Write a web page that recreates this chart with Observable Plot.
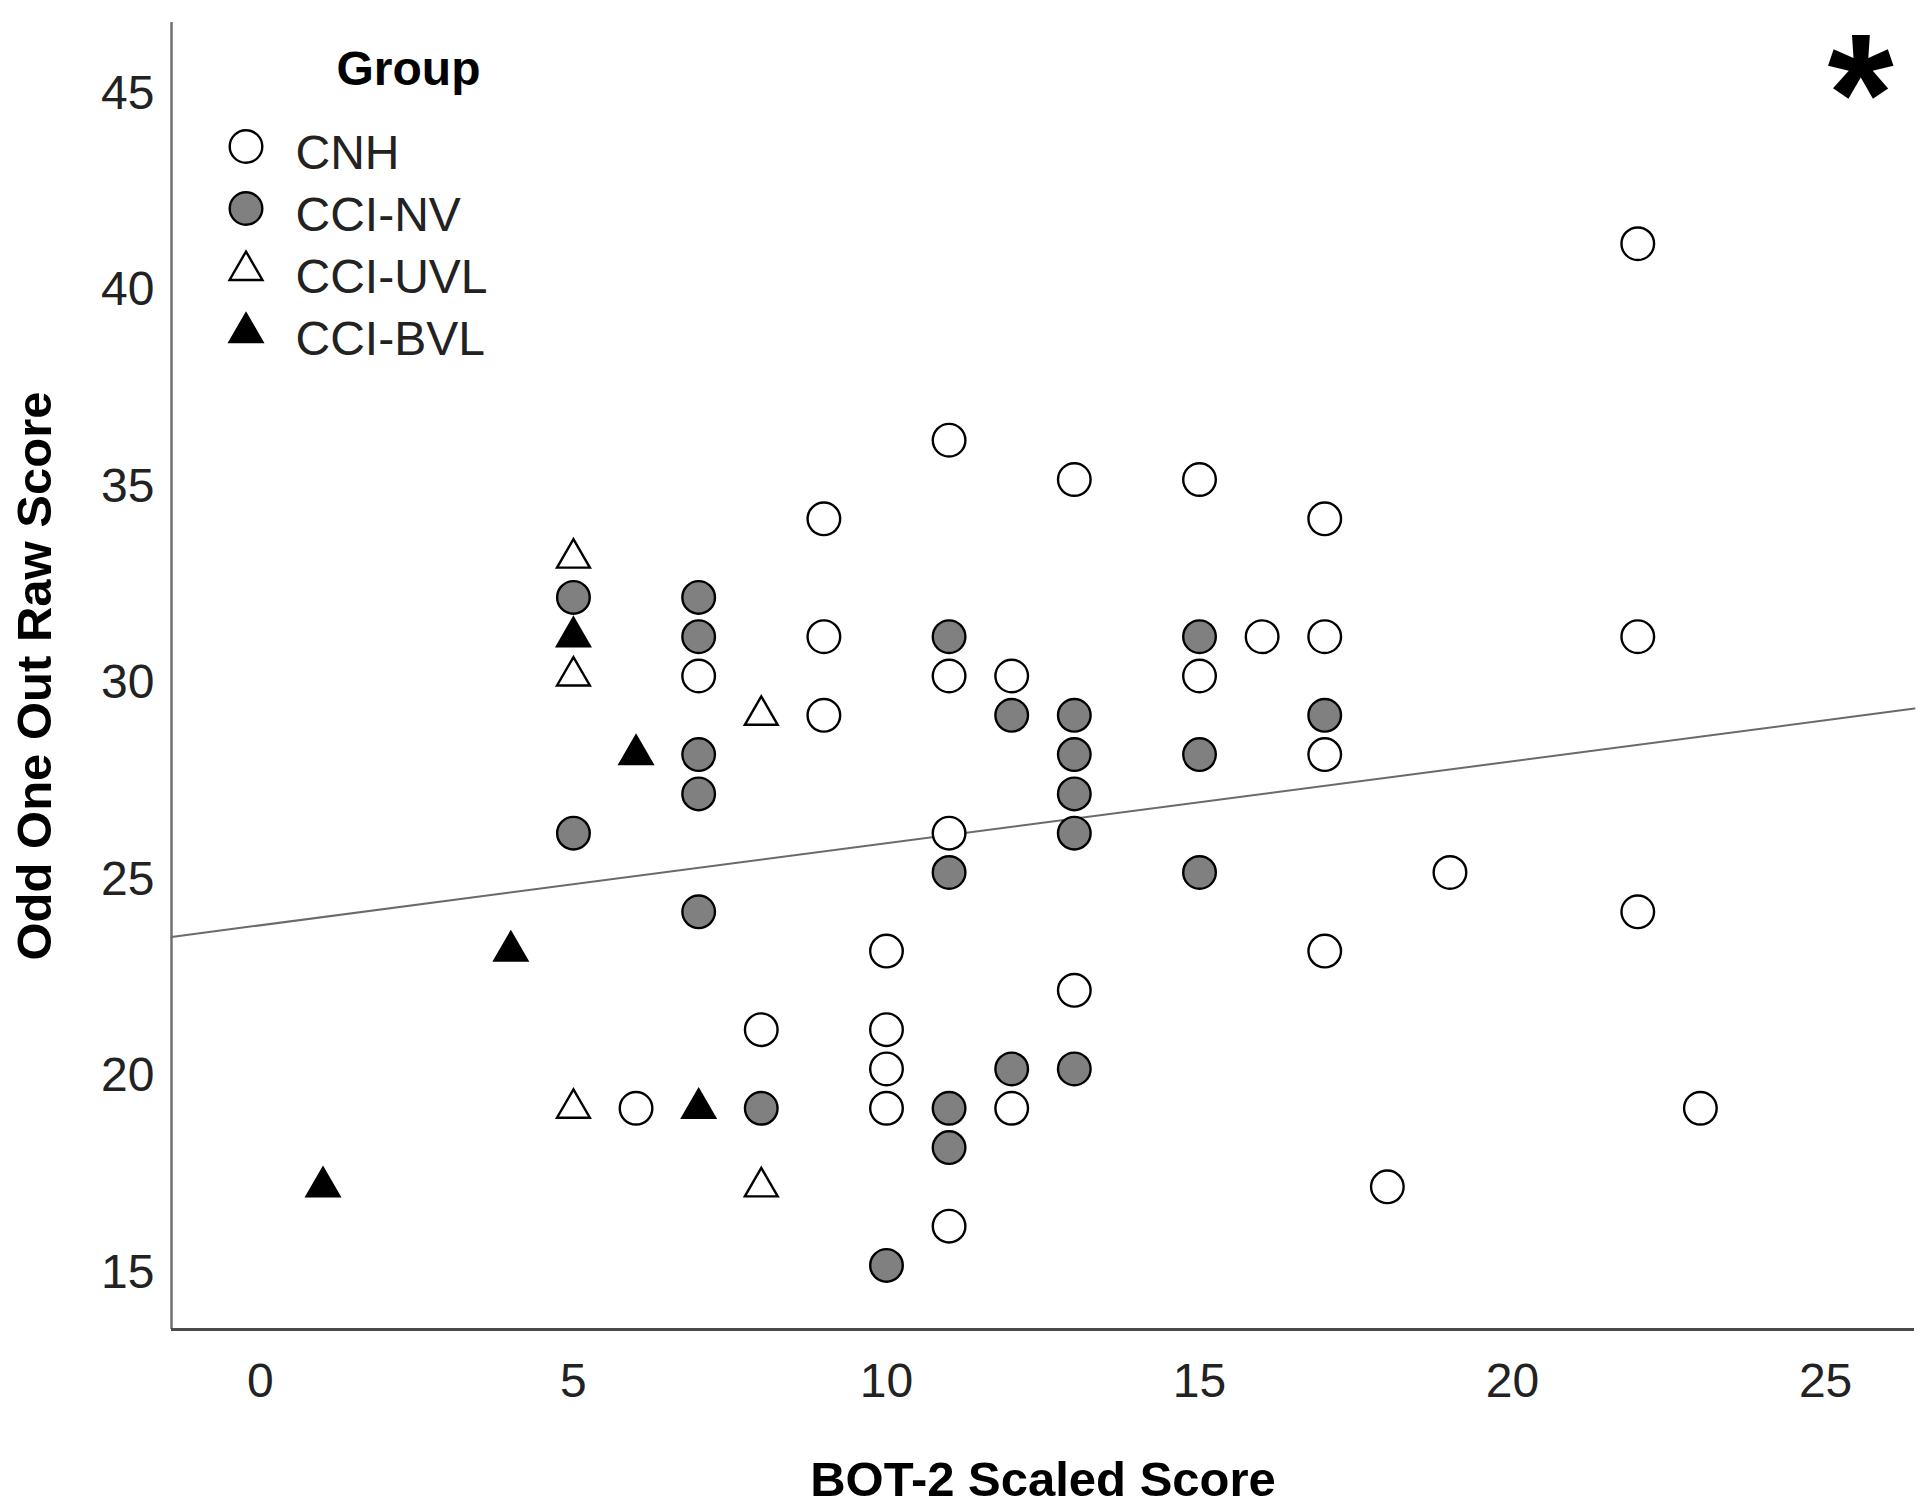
<!DOCTYPE html>
<html><head><meta charset="utf-8">
<script src="https://cdn.jsdelivr.net/npm/d3@7"></script>
<script src="https://cdn.jsdelivr.net/npm/@observablehq/plot@0.6"></script>
<style>
html,body{margin:0;padding:0;background:#fff;}
#wrap{position:relative;width:1920px;height:1505px;}
#legend{position:absolute;left:0;top:0;}
</style></head><body><div id="wrap"><div id="chart"></div><div id="legend"></div></div>
<script>
// ---- data ----
const groups = ["CNH", "CCI-NV", "CCI-UVL", "CCI-BVL"];
const groupFills = ["white", "#808080", "white", "black"];
const groupSymbols = ["circle", "circle", "triangle", "triangle"];

const cnhX = [22, 11, 13, 15, 9, 17, 9, 16, 17, 22, 7, 11, 12, 15, 9, 17, 11, 19, 22, 10, 17, 13, 8, 10, 10, 6, 10, 12, 23, 18, 11];
const cnhY = [41, 36, 35, 35, 34, 34, 31, 31, 31, 31, 30, 30, 30, 30, 29, 28, 26, 25, 24, 23, 23, 22, 21, 21, 20, 19, 19, 19, 19, 17, 16];
const nvX = [5, 7, 7, 11, 15, 12, 13, 17, 7, 13, 15, 7, 13, 5, 13, 11, 15, 7, 12, 13, 8, 11, 11, 10];
const nvY = [32, 32, 31, 31, 31, 29, 29, 29, 28, 28, 28, 27, 27, 26, 26, 25, 25, 24, 20, 20, 19, 19, 18, 15];
const uvlX = [5, 5, 8, 5, 8];
const uvlY = [33, 30, 29, 19, 17];
const bvlX = [5, 6, 4, 7, 1];
const bvlY = [31, 28, 23, 19, 17];

// total fit line (SPSS "fit line at total"), end points
const fitX = [-1.42, 26.42];
const fitY = [23.36, 29.17];

const xTicks = [0, 5, 10, 15, 20, 25];
const yTicks = [15, 20, 25, 30, 35, 40, 45];
const xTitle = "BOT-2 Scaled Score";
const yTitle = "Odd One Out Raw Score";
const legendTitle = "Group";
const marker = "*";

// ---- build tables ----
const series = [[cnhX, cnhY], [nvX, nvY], [uvlX, uvlY], [bvlX, bvlY]];
const data = series.flatMap(([xs, ys], g) => xs.map((x, i) => ({group: groups[g], x, y: ys[i]})));
const symbolOf = g => groupSymbols[groups.indexOf(g)];
const circles = data.filter(d => symbolOf(d.group) === "circle");
const triangles = data.filter(d => symbolOf(d.group) === "triangle");
const fitLine = fitX.map((x, i) => ({x, y: fitY[i]}));

const xDomain = [-1.42, 26.42];
const yDomain = [13.37, 46.63];

const font = "'Liberation Sans', Arial, Helvetica, sans-serif";
const colorScale = {domain: groups, range: groupFills};

const chart = Plot.plot({
  width: 1920, height: 1505,
  marginLeft: 171, marginRight: 6, marginTop: 22, marginBottom: 176,
  style: {fontFamily: font, fontSize: "48px", color: "#222", background: "#fff"},
  x: {domain: xDomain, ticks: xTicks, tickSize: 0, tickPadding: 33, label: null},
  y: {domain: yDomain, ticks: yTicks, tickSize: 0, tickPadding: 17, label: null},
  color: colorScale,
  marks: [
    Plot.ruleX([xDomain[0]], {stroke: "#707070", strokeWidth: 2.5}),
    Plot.ruleY([yDomain[0]], {stroke: "#4a4a4a", strokeWidth: 3}),
    Plot.line(fitLine, {x: "x", y: "y", stroke: "#6a6a6a", strokeWidth: 2}),
    Plot.dot(circles, {x: "x", y: "y", fill: "group", stroke: "black", strokeWidth: 2.4, r: 16.3, symbol: "circle"}),
    Plot.dot(triangles, {x: "x", y: "y", fill: "group", stroke: "black", strokeWidth: 2.4, r: 12.2, symbol: "triangle"}),
    Plot.text([marker], {text: d => d, frameAnchor: "top-right", textAnchor: "middle", lineAnchor: "middle", dx: -54, dy: 76, fontSize: 170, fontWeight: "bold", fill: "black"}),
    Plot.text([xTitle], {text: d => d, frameAnchor: "bottom", textAnchor: "middle", lineAnchor: "middle", dy: 151, fontSize: 49, fontWeight: "bold", fill: "black"}),
    Plot.text([yTitle], {text: d => d, frameAnchor: "left", textAnchor: "middle", lineAnchor: "middle", rotate: -90, dx: -136, fontSize: 49, fontWeight: "bold", fill: "black"})
  ]
});
// nudge y tick labels slightly downward as in the source
d3.select(chart).selectAll('g[aria-label^="y-axis"] text').each(function() {
  const cur = this.getAttribute("dy");
  if (cur && cur.endsWith("em")) this.setAttribute("dy", String(parseFloat(cur) * 48 + 7));
  else this.setAttribute("dy", String((parseFloat(cur) || 0) + 7));
});
document.getElementById("chart").appendChild(chart);

const legend = Plot.plot({
  width: 620, height: 380, margin: 0,
  style: {fontFamily: font, fontSize: "48px", color: "#222", background: "transparent"},
  y: {type: "point", domain: groups, range: [145, 332], padding: 0, axis: null},
  color: colorScale,
  marks: [
    Plot.dot(groups.filter(g => symbolOf(g) === "circle"), {y: d => d, fill: d => d, stroke: "black", strokeWidth: 2.4, r: 16.3, symbol: "circle", frameAnchor: "left", dx: 245.5}),
    Plot.dot(groups.filter(g => symbolOf(g) === "triangle"), {y: d => d, fill: d => d, stroke: "black", strokeWidth: 2.4, r: 12.2, symbol: "triangle", frameAnchor: "left", dx: 245.5}),
    Plot.text(groups, {y: d => d, text: d => d, frameAnchor: "left", dx: 295, dy: 7, textAnchor: "start", lineAnchor: "middle", fontSize: 48, fill: "#222"}),
    Plot.text([legendTitle], {text: d => d, frameAnchor: "top-left", lineAnchor: "top", dx: 408, dy: 50, textAnchor: "middle", fontSize: 48, fontWeight: "bold", fill: "black"})
  ]
});
document.getElementById("legend").appendChild(legend);
</script></body></html>
